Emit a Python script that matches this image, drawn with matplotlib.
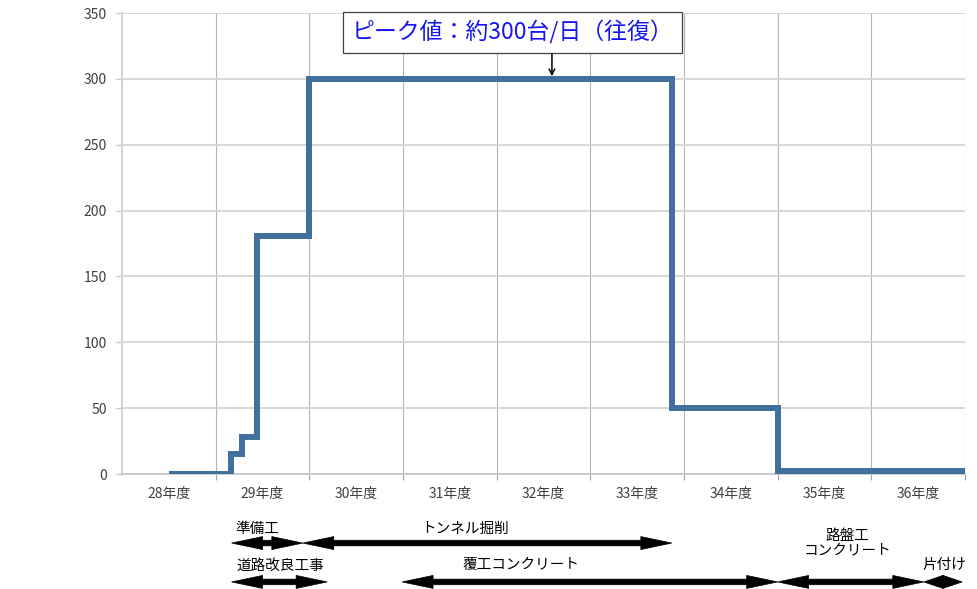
import matplotlib
matplotlib.use("Agg")
import matplotlib.pyplot as plt
import matplotlib.transforms as mtransforms
from matplotlib.patches import Polygon

plt.rcParams["font.family"] = ["Noto Sans CJK JP", "DejaVu Sans"]

# fiscal years on the x axis (one category per year)
YEARS = ["28年度", "29年度", "30年度", "31年度", "32年度", "33年度", "34年度", "35年度", "36年度"]
Y_TICKS = [0, 50, 100, 150, 200, 250, 300, 350]

# step series: change points (in year units, 0 = start of 28年度) and the level from each point on
STEP_X = [0.5, 1.16, 1.28, 1.44, 2.0, 5.87, 7.0, 9.0]
STEP_Y = [0, 15, 28, 181, 300, 50, 2, 2]

PEAK_LABEL = "ピーク値：約300台/日（往復）"

# work phases: label, start, end (year units), row
PHASE_NAMES = ["準備工", "トンネル掘削", "道路改良工事", "覆工コンクリート", "路盤工\nコンクリート", "片付け"]
PHASE_START = [1.17, 1.93, 1.17, 2.99, 7.0, 8.56]
PHASE_END = [1.93, 5.87, 2.19, 7.0, 8.56, 8.97]
PHASE_ROW = [0, 0, 1, 1, 1, 1]
PHASE_LABEL_X = [1.45, 3.66, 1.69, 4.26, 7.75, 8.78]

LINE_COLOR = "#41709c"
TICK_COLOR = "#404040"

fig = plt.figure(figsize=(9.77, 5.89), dpi=100)
ax = fig.add_axes([0.1249, 0.1952, 0.8628, 0.7827])

ax.plot(STEP_X, STEP_Y, drawstyle="steps-post", color=LINE_COLOR, lw=4.3,
        solid_joinstyle="miter", solid_capstyle="butt", zorder=3)

ax.set_xlim(0, len(YEARS))
ax.set_ylim(0, 350)
ax.set_yticks(Y_TICKS)
ax.set_yticklabels([str(v) for v in Y_TICKS])

# gridlines on year boundaries, labels centred in each year
ax.set_xticks(range(1, len(YEARS) + 1))
ax.set_xticklabels([])
ax.set_xticks([i + 0.5 for i in range(len(YEARS))], minor=True)
ax.set_xticklabels(YEARS, minor=True)
ax.tick_params(axis="x", which="major", length=4, color="#a0a0a0", width=0.8)
ax.tick_params(axis="x", which="minor", length=0, pad=9, labelsize=10, labelcolor=TICK_COLOR)
ax.tick_params(axis="y", length=4, color="#c8c8c8", width=1, pad=7, labelsize=10,
               labelcolor=TICK_COLOR)

ax.grid(axis="y", color="#d4d4d4", lw=1.3, zorder=1)
ax.grid(axis="x", which="major", color="#b4b4b4", lw=0.8, zorder=1)
for side in ["top", "right"]:
    ax.spines[side].set_visible(False)
ax.spines["left"].set_color("#d0d0d0")
ax.spines["left"].set_linewidth(1.3)
ax.spines["bottom"].set_color("#c8c8c8")
ax.spines["bottom"].set_linewidth(1.3)

# peak annotation
ax.text(4.17, 335, PEAK_LABEL, ha="center", va="center", fontsize=16.5, color="#1515f0",
        bbox=dict(boxstyle="square,pad=0.36", fc="white", ec="#404040", lw=0.9), zorder=5)
ax.annotate("", xy=(4.59, 302), xytext=(4.59, 319),
            arrowprops=dict(arrowstyle="->", color="black", lw=1.1, shrinkA=0, shrinkB=0),
            zorder=5)

# phase arrows below the axis, drawn in pixel space
trans = mtransforms.blended_transform_factory(ax.transData, fig.transFigure)
row_y = [0.078, 0.012]
label_y = [0.102, 0.040]
HEAD_LEN, HEAD_HALF, SHAFT_HALF = 31, 6.5, 2.8


def double_arrow(x0, x1, y):
    (p0, py), (p1, _) = trans.transform([(x0, y), (x1, y)])
    head = min(HEAD_LEN, (p1 - p0) / 2)
    pts = [
        (p0, py), (p0 + head, py + HEAD_HALF), (p0 + head, py + SHAFT_HALF),
        (p1 - head, py + SHAFT_HALF), (p1 - head, py + HEAD_HALF), (p1, py),
        (p1 - head, py - HEAD_HALF), (p1 - head, py - SHAFT_HALF),
        (p0 + head, py - SHAFT_HALF), (p0 + head, py - HEAD_HALF),
    ]
    fig.add_artist(Polygon(pts, closed=True, transform=None, fc="black", ec="black",
                           lw=0.5, clip_on=False))


for name, start, end, row, lx in zip(PHASE_NAMES, PHASE_START, PHASE_END, PHASE_ROW,
                                     PHASE_LABEL_X):
    double_arrow(start, end, row_y[row])
    ly = 0.078 if "\n" in name else label_y[row]
    ax.text(lx, ly, name, transform=trans, ha="center", va="center",
            fontsize=10.5, color="black", linespacing=1.1)

fig.savefig("out.png", dpi=100, facecolor="white")
